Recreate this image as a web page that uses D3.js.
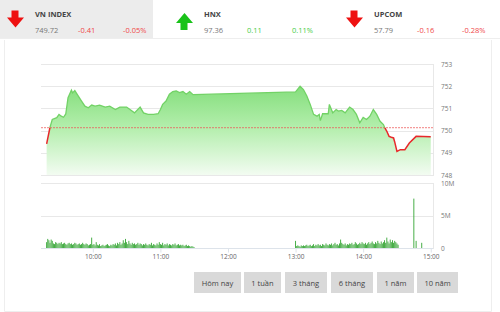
<!DOCTYPE html>
<html>
<head>
<meta charset="utf-8">
<script src="https://cdn.jsdelivr.net/npm/d3@7"></script>
<style>
body { margin: 0; background: #fff; font-family: "Open Sans", sans-serif; }
svg { display: block; }
</style>
</head>
<body>
<div id="viz"></div>
<script>
// header indices
var indexNames = ["VN INDEX", "HNX", "UPCOM"];
var indexValues = ["749.72", "97.36", "57.79"];
var indexChanges = ["-0.41", "0.11", "-0.16"];
var indexPercents = ["-0.05%", "0.11%", "-0.28%"];
var indexUp = [false, true, false];

// intraday VN-Index
var refPrice = 750.13;
var priceTimes = ["09:19","09:22","09:24","09:28","09:30","09:32","09:34","09:36","09:38","09:41",
	"09:42","09:44","09:47","09:50","09:53","09:56","09:59","10:02","10:06","10:11",
	"10:15","10:20","10:24","10:30","10:33","10:37","10:42","10:45","10:49","10:54",
	"10:58","11:00","11:02","11:05","11:08","11:11","11:14","11:17","11:20","11:23",
	"11:26","11:29","13:00","13:04","13:07","13:10","13:13","13:16","13:19","13:21",
	"13:22","13:24","13:29","13:30","13:33","13:36","13:38","13:41","13:44","13:48",
	"13:51","13:54","13:57","14:00","14:03","14:06","14:09","14:12","14:15","14:18",
	"14:19","14:21","14:23","14:25","14:27","14:28","14:30","14:33","14:37","14:41",
	"14:47","15:00"];
var prices = [749.40,750.15,750.50,750.58,750.73,750.65,750.60,750.75,751.48,751.82,
	751.70,751.80,751.56,751.33,751.10,751.03,751.15,751.10,751.15,751.06,
	751.10,750.95,751.06,751.06,750.95,750.80,751.06,750.80,750.73,750.73,
	750.76,750.95,751.18,751.33,751.64,751.76,751.79,751.71,751.76,751.64,
	751.76,751.62,751.74,752.00,751.85,751.56,751.18,750.73,750.65,750.73,
	750.45,750.76,750.76,751.18,750.80,750.95,750.88,750.91,750.80,751.06,
	750.95,750.73,750.35,750.59,750.50,750.65,750.95,750.73,750.42,750.27,
	750.15,749.97,749.74,749.70,749.67,749.49,749.06,749.14,749.14,749.44,
	749.74,749.72];
var priceTicks = [748, 749, 750, 751, 752, 753];

// volume, millions of shares, one bar per minute
var volMorningStart = "09:19";
var volMorning = [0.9,1.4,1.2,0.8,1.3,1.1,0.7,0.6,0.9,0.8,
	0.6,0.8,0.7,0.9,0.6,0.7,0.8,0.6,0.5,0.7,
	0.8,0.6,0.7,0.5,0.6,0.8,0.7,0.5,0.6,0.7,
	0.5,0.6,0.8,0.6,0.5,0.7,0.6,0.4,0.5,0.6,
	1.6,0.5,0.6,0.4,0.9,0.5,0.4,0.6,0.3,0.4,
	0.5,0.3,0.4,0.5,0.6,0.4,0.3,0.5,0.4,0.6,
	0.5,0.7,0.4,0.8,0.6,0.9,0.5,0.7,1.2,0.8,
	1.4,0.9,0.6,1.1,0.7,0.5,0.8,0.6,0.7,0.5,
	0.6,0.8,0.5,0.7,0.6,0.4,0.6,0.5,0.7,0.5,
	0.4,0.6,0.5,0.8,0.4,0.6,0.5,0.4,0.7,0.5,
	0.9,0.6,0.5,0.8,0.4,0.6,0.5,0.7,0.4,0.6,
	0.5,0.4,0.6,0.5,0.7,0.4,0.5,0.6,0.4,0.5,
	0.4,0.5,0.3,0.4,0.5,0.3,0.4,0.3,0.2,0.3,
	0.2,0.1];
var volAfternoonStart = "13:00";
var volAfternoon = [1.1,0.3,0.4,0.3,0.2,0.4,0.3,0.4,0.3,0.4,
	0.5,0.3,0.4,0.5,0.3,0.4,0.6,0.3,0.5,0.4,
	0.6,0.4,0.5,0.3,0.6,0.5,0.4,0.7,0.5,0.4,
	0.6,0.5,0.7,0.4,0.6,0.8,0.5,0.6,0.4,0.7,
	1.3,0.8,0.6,0.5,0.7,0.4,0.6,0.5,0.7,0.6,
	0.8,0.5,0.6,0.9,0.7,0.5,0.6,0.8,0.6,0.9,
	0.7,0.6,0.8,0.5,0.7,0.9,0.6,0.8,1.0,0.7,
	0.6,0.9,0.7,1.1,0.8,0.6,1.0,0.7,0.9,1.2,
	0.8,1.6,1.0,0.7,1.3,0.9,1.2,0.8,1.1,0.9,
	0.7,0.5];
var volAtcTimes = ["14:45", "14:47", "14:52"];
var volAtc = [7.6, 1.1, 0.8];
var volTicks = [0, 5, 10];
var volTickLabels = ["0", "5M", "10M"];

var timeTicks = ["10:00", "11:00", "12:00", "13:00", "14:00", "15:00"];
var buttons = ["Hôm nay", "1 tuần", "3 tháng", "6 tháng", "1 năm", "10 năm"];

var width = 500, height = 312;
var parse = d3.timeParse("%H:%M");
var grid = "#e8e8e8";

var svg = d3.select("#viz").append("svg")
	.attr("width", width)
	.attr("height", height);

// ---- header ----
svg.append("rect").attr("x", 0).attr("y", 0).attr("width", 153).attr("height", 38).attr("fill", "#ececec");
svg.append("line").attr("x1", 0).attr("x2", width).attr("y1", 38.5).attr("y2", 38.5).attr("stroke", "#eeeeee");

var arrowDown = "M4.5,0 L11.5,0 L11.5,7 L17,7 L8.5,17 L0,7 L4.5,7 Z";
var arrowUp = "M4.5,17 L11.5,17 L11.5,10 L17,10 L8.5,0 L0,10 L4.5,10 Z";

indexNames.forEach(function(name, i) {
	var base = [0, 169, 339][i];
	var g = svg.append("g").attr("transform", "translate(" + base + ",0)");
	g.append("path")
		.attr("d", indexUp[i] ? arrowUp : arrowDown)
		.attr("transform", "translate(7," + (indexUp[i] ? 13 : 10.5) + ")")
		.attr("fill", indexUp[i] ? "#19c219" : "#ee1111");
	g.append("text").attr("x", 35).attr("y", 16.5).text(name)
		.attr("font-size", 7.5).attr("font-weight", "bold").attr("fill", "#444");
	g.append("text").attr("x", 35).attr("y", 32.5).text(indexValues[i])
		.attr("font-size", 7.5).attr("fill", "#777");
	var c = indexUp[i] ? "#44cc44" : "#f04848";
	g.append("text").attr("x", 78).attr("y", 32.5).text(indexChanges[i])
		.attr("font-size", 7.5).attr("fill", c);
	g.append("text").attr("x", 123).attr("y", 32.5).text(indexPercents[i])
		.attr("font-size", 7.5).attr("fill", c);
});

// outer panel
svg.append("path").attr("d", "M4.5,40 L4.5,311.5 L491.5,311.5 L491.5,40")
	.attr("fill", "none").attr("stroke", "#eeeeee");

// ---- scales ----
var x = d3.scaleTime().domain([parse("09:14"), parse("15:02")]).range([41, 433]);
var y = d3.scaleLinear().domain([748, 753]).range([175, 64]);
var yv = d3.scaleLinear().domain([0, 10]).range([248, 183]);

var data = priceTimes.map(function(t, i) { return { t: parse(t), p: prices[i] }; });

// gridlines
svg.append("g").selectAll("line").data(priceTicks).enter().append("line")
	.attr("x1", 41).attr("x2", 433)
	.attr("y1", function(d) { return Math.round(y(d)) + 0.5; })
	.attr("y2", function(d) { return Math.round(y(d)) + 0.5; })
	.attr("stroke", grid);
svg.append("g").selectAll("line").data(volTicks).enter().append("line")
	.attr("x1", 41).attr("x2", 433)
	.attr("y1", function(d) { return Math.round(yv(d)) + 0.5; })
	.attr("y2", function(d) { return Math.round(yv(d)) + 0.5; })
	.attr("stroke", function(d) { return d === 0 ? "#dde3ea" : grid; });
svg.append("line").attr("x1", 433.5).attr("x2", 433.5).attr("y1", 64).attr("y2", 176).attr("stroke", grid);
svg.append("line").attr("x1", 433.5).attr("x2", 433.5).attr("y1", 183).attr("y2", 249).attr("stroke", grid);

// ---- price area + line ----
var defs = svg.append("defs");
var grad = defs.append("linearGradient").attr("id", "grad")
	.attr("gradientUnits", "userSpaceOnUse")
	.attr("x1", 0).attr("x2", 0).attr("y1", 86).attr("y2", 176);
grad.append("stop").attr("offset", "0%").attr("stop-color", "#84de7c");
grad.append("stop").attr("offset", "45%").attr("stop-color", "#b2eeab");
grad.append("stop").attr("offset", "100%").attr("stop-color", "#f4fcf3");

var yRef = y(refPrice);
defs.append("clipPath").attr("id", "above").append("rect")
	.attr("x", 0).attr("y", 0).attr("width", width).attr("height", yRef);
defs.append("clipPath").attr("id", "below").append("rect")
	.attr("x", 0).attr("y", yRef).attr("width", width).attr("height", height);

var area = d3.area()
	.x(function(d) { return x(d.t); })
	.y0(175)
	.y1(function(d) { return y(d.p); });
var line = d3.line()
	.x(function(d) { return x(d.t); })
	.y(function(d) { return y(d.p); });

svg.append("path").datum(data).attr("d", area).attr("fill", "url(#grad)");

svg.append("line").attr("x1", 41).attr("x2", 433).attr("y1", yRef).attr("y2", yRef)
	.attr("stroke", "#ee5555").attr("stroke-dasharray", "2,1").attr("stroke-opacity", 0.75);

svg.append("path").datum(data).attr("d", line)
	.attr("fill", "none").attr("stroke", "#72d266").attr("stroke-width", 1.3)
	.attr("clip-path", "url(#above)");
svg.append("path").datum(data).attr("d", line)
	.attr("fill", "none").attr("stroke", "#e8282b").attr("stroke-width", 1.5)
	.attr("clip-path", "url(#below)");

// ---- volume bars ----
function minuteBars(start, values) {
	var t0 = parse(start);
	return values.map(function(v, i) { return { t: d3.timeMinute.offset(t0, i), v: v }; });
}
var vols = minuteBars(volMorningStart, volMorning)
	.concat(minuteBars(volAfternoonStart, volAfternoon))
	.concat(volAtcTimes.map(function(t, i) { return { t: parse(t), v: volAtc[i] }; }));

svg.append("g").selectAll("rect").data(vols).enter().append("rect")
	.attr("x", function(d) { return x(d.t) - 0.45; })
	.attr("width", 0.9)
	.attr("y", function(d) { return yv(d.v); })
	.attr("height", function(d) { return yv(0) - yv(d.v); })
	.attr("fill", "#34a534");

// ---- axes ----
var xAxis = d3.axisBottom(x)
	.tickValues(timeTicks.map(parse))
	.tickFormat(d3.timeFormat("%H:%M"))
	.tickSize(4);
var gx = svg.append("g").attr("transform", "translate(0,248.5)").call(xAxis);
gx.select(".domain").remove();
gx.selectAll("line").attr("stroke", "#dde3ea");
gx.selectAll("text").attr("font-size", 6.5).attr("fill", "#666")
	.attr("font-family", "Open Sans, sans-serif").attr("dy", "0.5em");

var gy = svg.append("g").attr("transform", "translate(441,0)")
	.call(d3.axisRight(y).tickValues(priceTicks).tickFormat(d3.format("d")).tickSize(0));
gy.select(".domain").remove();
gy.selectAll("text").attr("font-size", 6.5).attr("fill", "#777").attr("x", 0)
	.attr("font-family", "Open Sans, sans-serif");

var gv = svg.append("g").attr("transform", "translate(441,0)")
	.call(d3.axisRight(yv).tickValues(volTicks).tickFormat(function(d, i) { return volTickLabels[i]; }).tickSize(0));
gv.select(".domain").remove();
gv.selectAll("text").attr("font-size", 6.5).attr("fill", "#777").attr("x", 0)
	.attr("font-family", "Open Sans, sans-serif");

// ---- range buttons ----
var btnX = [194, 244, 285, 331, 377, 417];
var btnW = [47, 37, 42, 42, 37, 41];
var btn = svg.append("g").selectAll("g").data(buttons).enter().append("g")
	.attr("transform", function(d, i) { return "translate(" + btnX[i] + ",272)"; });
btn.append("rect")
	.attr("width", function(d, i) { return btnW[i]; })
	.attr("height", 21)
	.attr("fill", "#d9d9d9");
btn.append("text")
	.attr("x", function(d, i) { return btnW[i] / 2; })
	.attr("y", 13.5)
	.attr("text-anchor", "middle")
	.attr("font-size", 7.5)
	.attr("fill", "#444")
	.text(function(d) { return d; });
</script>
</body>
</html>
